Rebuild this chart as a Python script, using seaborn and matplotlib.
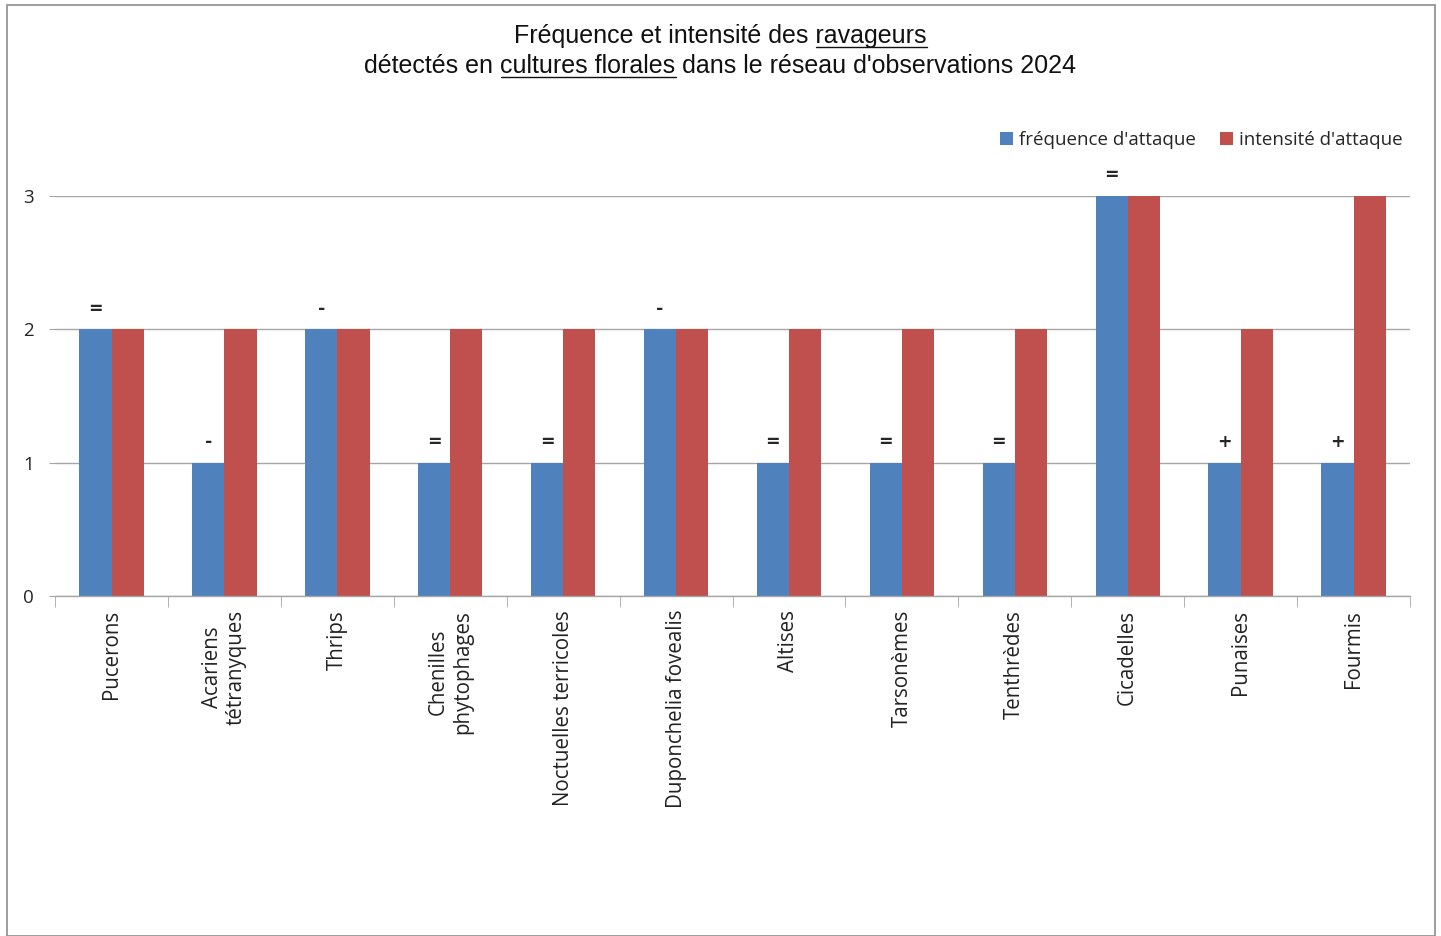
import matplotlib
matplotlib.use("Agg")
import matplotlib.pyplot as plt
import seaborn as sns
import pandas as pd
import numpy as np
from matplotlib.patches import Rectangle

# Pest categories and scores
categories = ["Pucerons", "Acariens\ntétranyques", "Thrips", "Chenilles\nphytophages",
              "Noctuelles terricoles", "Duponchelia fovealis", "Altises", "Tarsonèmes",
              "Tenthrèdes", "Cicadelles", "Punaises", "Fourmis"]
frequence = [2, 1, 2, 1, 1, 2, 1, 1, 1, 3, 1, 1]
intensite = [2, 2, 2, 2, 2, 2, 2, 2, 2, 3, 2, 3]
tendance = ["=", "-", "-", "=", "=", "-", "=", "=", "=", "=", "+", "+"]
series = ["fréquence d'attaque", "intensité d'attaque"]
colors = ["#4F81BD", "#C0504D"]

df = pd.DataFrame({
    "categorie": categories * 2,
    "serie": [series[0]] * len(categories) + [series[1]] * len(categories),
    "valeur": frequence + intensite,
})

sns.set_style("white")
plt.rcParams["font.family"] = ["Open Sans", "DejaVu Sans"]

fig = plt.figure(figsize=(14.41, 9.36), dpi=100)
ax = fig.add_axes([0.0382, 0.3632, 0.9403, 0.4274])

sns.barplot(data=df, x="categorie", y="valeur", hue="serie", order=categories,
            hue_order=series, palette=colors, width=0.57, saturation=1,
            linewidth=0, ax=ax, legend=True)

ax.set_ylim(0, 3)
ax.set_xlim(-0.5, len(categories) - 0.5)
ax.set_yticks([0, 1, 2, 3])
ax.set_yticklabels(["0", "1", "2", "3"], fontsize=13.5)
ax.yaxis.grid(True, color="#A6A6A6", linewidth=1.0)
ax.set_axisbelow(True)
ax.set_xlabel("")
ax.set_ylabel("")

for s in ["top", "right", "left"]:
    ax.spines[s].set_visible(False)
ax.spines["bottom"].set_color("#A6A6A6")
ax.spines["bottom"].set_linewidth(1.0)

ax.tick_params(axis="y", length=4, color="#A6A6A6", pad=11, left=True)
ax.set_xticks(range(len(categories)))
ax.set_xticklabels(categories, rotation=90, fontsize=14.8, va="top",
                   ha="center", multialignment="center", color="#222222")
ax.tick_params(axis="x", length=0, pad=10, bottom=True)
ax.set_xticks(np.arange(-0.5, len(categories), 1.0), minor=True)
ax.tick_params(axis="x", which="minor", length=8, color="#A6A6A6", bottom=True)

# Trend markers above the frequency bars
blue_bars = ax.containers[0]
for bar, sym in zip(blue_bars, tendance):
    x = bar.get_x() + bar.get_width() / 2
    y = bar.get_height()
    ax.annotate(sym, (x, y), xytext=(0, 8.5), textcoords="offset points",
                ha="center", va="bottom", fontsize=12.5, fontweight="bold",
                family="DejaVu Sans", annotation_clip=False)

leg = ax.legend(loc="lower right", bbox_to_anchor=(1.0, 1.0975), ncol=2,
                frameon=False, fontsize=13.5, handlelength=0.7, handleheight=0.7,
                handletextpad=0.3, columnspacing=1.3, borderaxespad=0)

# Title with underlined words
title_font = dict(fontsize=18, family=["Liberation Sans Narrow", "Liberation Sans", "DejaVu Sans"],
                  color="#111111")
lines = [
    ("Fréquence et intensité des ", "ravageurs", ""),
    ("détectés en ", "cultures florales", " dans le réseau d'observations 2024"),
]
ys = [0.962, 0.930]
fig.canvas.draw()
renderer = fig.canvas.get_renderer()
for (pre, und, post), y in zip(lines, ys):
    full = fig.text(0.5, y, pre + und + post, ha="center", va="center", **title_font)
    bb = full.get_window_extent(renderer)
    tmp = fig.text(0, 0, pre.replace(" ", "\u00a0"), **title_font)
    w_pre = tmp.get_window_extent(renderer).width
    tmp.remove()
    tmp = fig.text(0, 0, und, **title_font)
    w_und = tmp.get_window_extent(renderer).width
    tmp.remove()
    x0 = (bb.x0 + w_pre) / fig.bbox.width
    x1 = (bb.x0 + w_pre + w_und) / fig.bbox.width
    yl = (bb.y0 + 1) / fig.bbox.height
    fig.add_artist(plt.Line2D([x0, x1], [yl, yl], color="#111111", linewidth=1.0,
                              transform=fig.transFigure))

# Chart border
fig.add_artist(Rectangle((7 / 1441, 0), (1435 - 7) / 1441, 1 - 5 / 936,
                         transform=fig.transFigure, fill=False,
                         edgecolor="#8C8C8C", linewidth=1.2))

fig.savefig("out.png", dpi=100, facecolor="white")
